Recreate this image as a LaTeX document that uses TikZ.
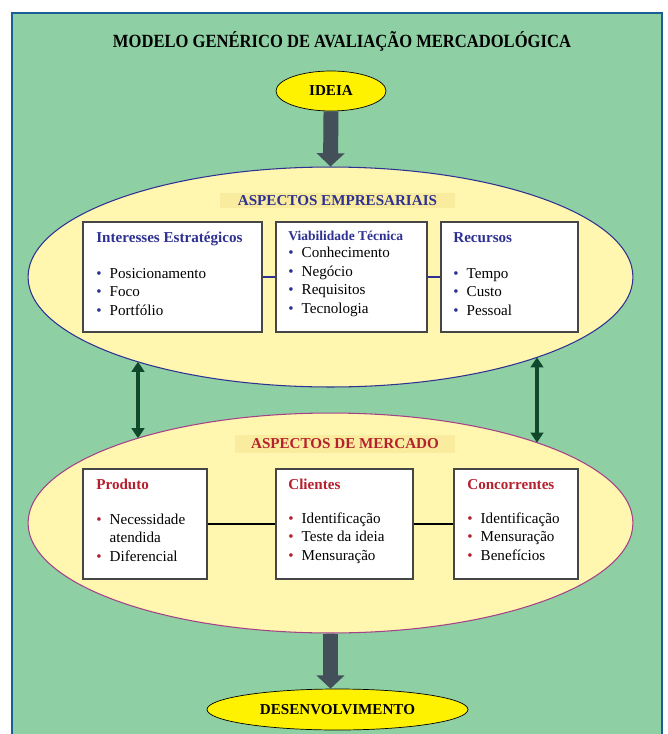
\documentclass[tikz,border=0pt]{standalone}
\usepackage{fontspec}
\setmainfont{Liberation Serif}
\usepackage{xcolor}
\usetikzlibrary{shapes.geometric,arrows.meta,positioning}

\definecolor{fundo}{RGB}{143,207,164}
\definecolor{moldura}{RGB}{25,95,150}
\definecolor{creme}{RGB}{255,246,176}
\definecolor{faixacor}{RGB}{249,236,158}
\definecolor{amarelo}{RGB}{255,242,0}
\definecolor{azul}{RGB}{46,49,146}
\definecolor{vermelho}{RGB}{181,32,46}
\definecolor{roxo}{RGB}{165,65,135}
\definecolor{grafite}{RGB}{67,79,89}
\definecolor{verdeesc}{RGB}{16,72,44}
\definecolor{borda}{RGB}{70,70,70}

\newcommand{\pa}{\makebox[7.6pt][l]{\textcolor{azul}{\textbullet}}}
\newcommand{\pv}{\makebox[7.6pt][l]{\textcolor{vermelho}{\textbullet}}}

\begin{document}
\begin{tikzpicture}[x=0.02cm,y=-0.02cm,
  elipse/.style={ellipse, minimum width=12.1cm, minimum height=4.4cm, fill=creme, line width=0.6pt},
  oval/.style={ellipse, draw=black, fill=amarelo, inner sep=0pt, font=\fontsize{8.6}{10}\selectfont\bfseries},
  caixa/.style={rectangle, draw=borda, fill=white, line width=0.7pt, inner sep=0pt, minimum height=2.2cm},
  tit/.style={anchor=base west, inner sep=0pt, font=\fontsize{8.6}{10}\selectfont\bfseries},
  lista/.style={anchor=base west, inner sep=0pt, align=left, font=\fontsize{8.6}{10.5}\selectfont},
  faixa/.style={fill=faixacor, inner sep=0pt, font=\fontsize{8.6}{10}\selectfont\bfseries},
  seta/.style={draw=grafite, line width=8.5pt, -{Triangle[width=15.5pt,length=7.5pt]}},
  duplo/.style={draw=verdeesc, line width=2.3pt, {Triangle[width=7.2pt,length=5.7pt]}-{Triangle[width=7.2pt,length=5.7pt]}}
]
% Fundo
\useasboundingbox (0,0) rectangle (667,734);
\fill[fundo] (12,13) rectangle (662,734);
\draw[moldura, line width=1.2pt] (12,734) -- (12,13) -- (662,13) -- (662,734);

\node[font=\fontsize{10.6}{12}\selectfont\bfseries] (titulo) at (342,41) {\scalebox{0.89}[1]{MODELO GENÉRICO DE AVALIAÇÃO MERCADOLÓGICA}};

% Elipses
\node[oval, minimum width=2.2cm, minimum height=0.8cm] (ideia) at (331,91) {IDEIA};
\node[elipse, draw=azul] (emp) at (330.5,277) {};
\node[elipse, draw=roxo] (merc) at (330.5,523) {};
\node[oval, minimum width=5.22cm, minimum height=0.82cm] (desenv) at (337.5,709.5) {DESENVOLVIMENTO};

\node[faixa, text=azul, minimum width=4.7cm, minimum height=0.3cm] (fe) at (337.5,200.5) {ASPECTOS EMPRESARIAIS};
\node[faixa, text=vermelho, minimum width=4.4cm, minimum height=0.36cm] (fm) at (345,444) {ASPECTOS DE MERCADO};

% Caixas
\node[caixa, minimum width=3.58cm] (ie) at (172.5,277) {};
\node[caixa, minimum width=3.02cm] (vt) at (351.5,277) {};
\node[caixa, minimum width=2.74cm] (rec) at (509.5,277) {};
\node[caixa, minimum width=2.48cm] (prod) at (145,524) {};
\node[caixa, minimum width=2.74cm] (cli) at (344.5,524) {};
\node[caixa, minimum width=2.48cm] (conc) at (516,524) {};

\draw[azul, line width=1.3pt] (ie) -- (vt);
\draw[azul, line width=1.3pt] (vt) -- (rec);
\draw[black, line width=0.6pt] (prod) -- (cli);
\draw[black, line width=0.6pt] (cli) -- (conc);

% Textos
\node[tit, text=azul] (tie) at (96,242) {Interesses Estratégicos};
\node[lista] (lie) at (96,315) {\pa Posicionamento\\ \pa Foco\\ \pa Portfólio};
\node[tit, text=azul, font=\fontsize{7.7}{9}\selectfont\bfseries] (tvt) at (288,240) {Viabilidade Técnica};
\node[lista] (lvt) at (288,313) {\pa Conhecimento\\ \pa Negócio\\ \pa Requisitos\\ \pa Tecnologia};
\node[tit, text=azul] (trec) at (453,242) {Recursos};
\node[lista] (lrec) at (453,315) {\pa Tempo\\ \pa Custo\\ \pa Pessoal};
\node[tit, text=vermelho] (tprod) at (96,489) {Produto};
\node[lista] (lprod) at (96,561) {\pv Necessidade\\ \hspace*{7.6pt}atendida\\ \pv Diferencial};
\node[tit, text=vermelho] (tcli) at (288,489) {Clientes};
\node[lista] (lcli) at (288,560) {\pv Identificação\\ \pv Teste da ideia\\ \pv Mensuração};
\node[tit, text=vermelho] (tconc) at (467,489) {Concorrentes};
\node[lista] (lconc) at (467,560) {\pv Identificação\\ \pv Mensuração\\ \pv Benefícios};

% Setas
\coordinate (e1) at (138,361.8);
\coordinate (m1) at (138,438.2);
\coordinate (e2) at (537,357.4);
\coordinate (m2) at (537,442.6);
\draw[seta] (ideia.south) -- (emp.north);
\draw[seta] (merc.south) -- (merc.south |- desenv.north);
\draw[duplo] (e1) -- (m1);
\draw[duplo] (e2) -- (m2);
\end{tikzpicture}
\end{document}
